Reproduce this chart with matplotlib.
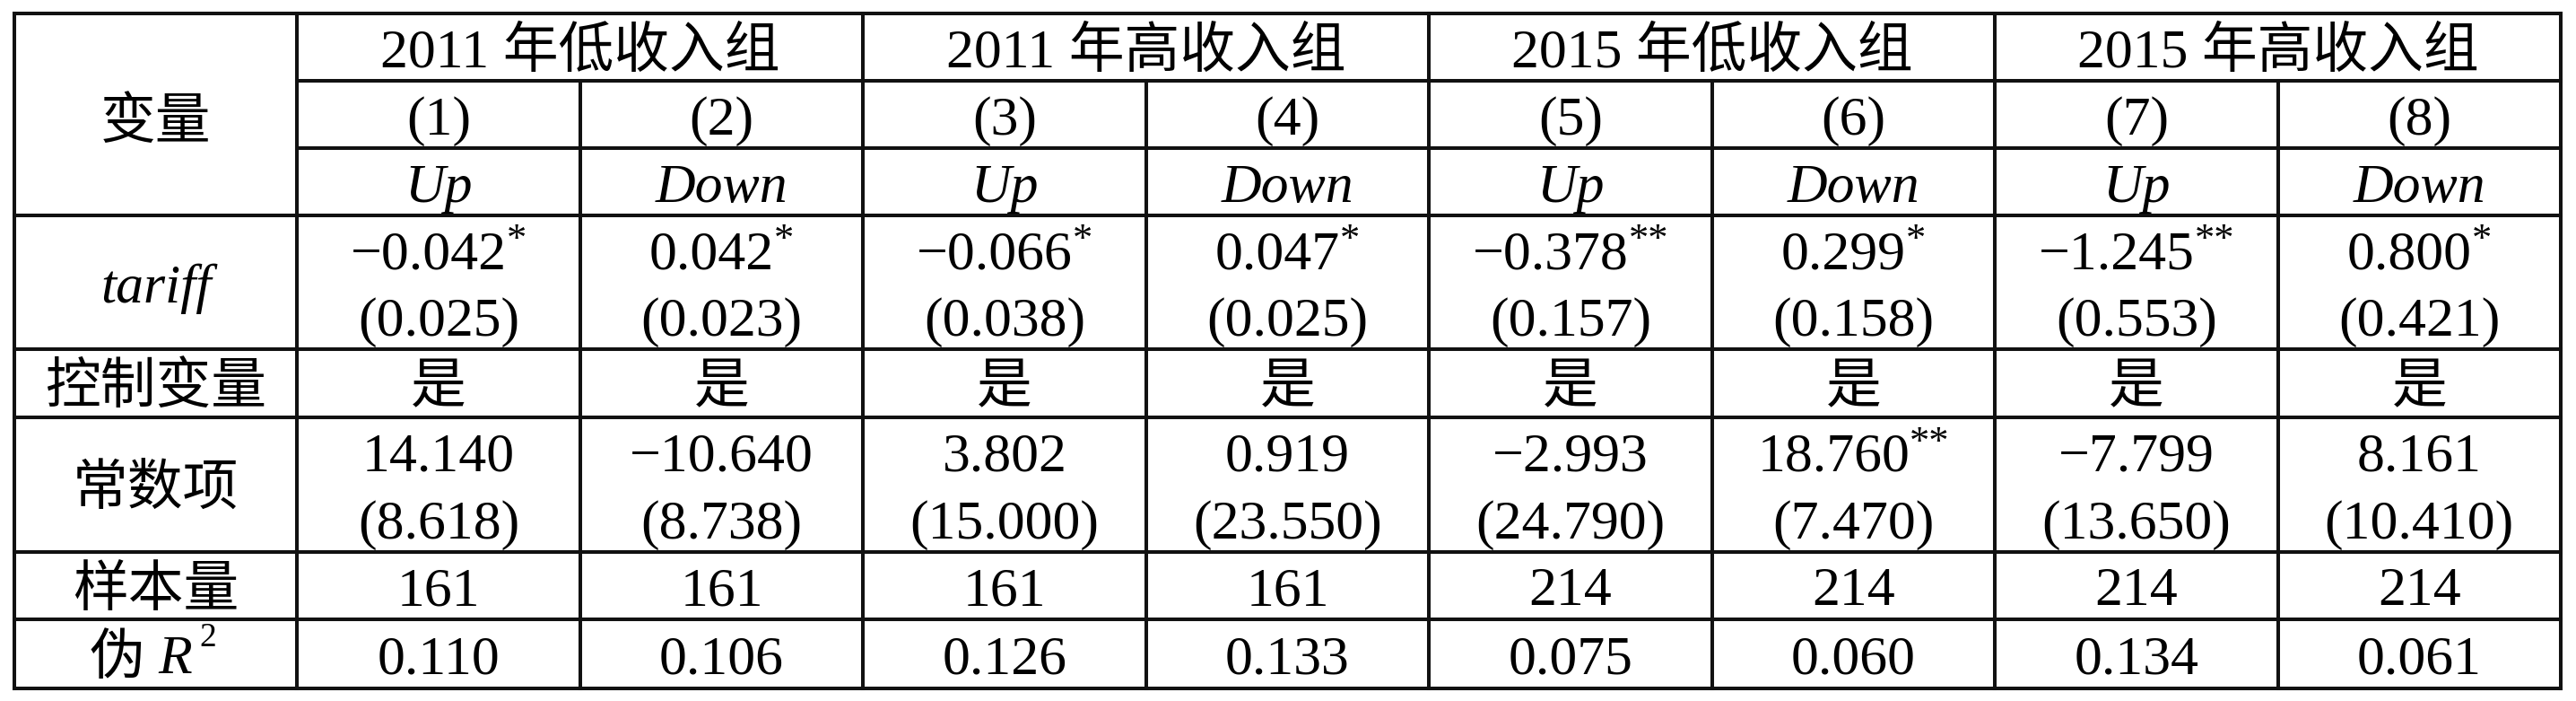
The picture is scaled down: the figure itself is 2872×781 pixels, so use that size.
import numpy as np
import matplotlib
matplotlib.use('Agg')
import matplotlib.pyplot as plt

# Latin text in a serif, Chinese falls through to the CJK family
plt.rcParams['font.family'] = ['Liberation Serif', 'Noto Sans CJK SC']

# table contents
groups = ['2011 年低收入组', '2011 年高收入组', '2015 年低收入组', '2015 年高收入组']
model_nums = ['(1)', '(2)', '(3)', '(4)', '(5)', '(6)', '(7)', '(8)']
dep_vars = ['Up', 'Down', 'Up', 'Down', 'Up', 'Down', 'Up', 'Down']
tariff_coef = [-0.042, 0.042, -0.066, 0.047, -0.378, 0.299, -1.245, 0.800]
tariff_stars = ['*', '*', '*', '*', '**', '*', '**', '*']
tariff_se = [0.025, 0.023, 0.038, 0.025, 0.157, 0.158, 0.553, 0.421]
controls = ['是', '是', '是', '是', '是', '是', '是', '是']
const_coef = [14.140, -10.640, 3.802, 0.919, -2.993, 18.760, -7.799, 8.161]
const_stars = ['', '', '', '', '', '**', '', '']
const_se = [8.618, 8.738, 15.000, 23.550, 24.790, 7.470, 13.650, 10.410]
n_obs = [161, 161, 161, 161, 214, 214, 214, 214]
pseudo_r2 = [0.110, 0.106, 0.126, 0.133, 0.075, 0.060, 0.134, 0.061]

W, H = 2872, 781
fig = plt.figure(figsize=(W / 100, H / 100), dpi=100)
ax = fig.add_axes([0, 0, 1, 1])
ax.set_xlim(0, W)
ax.set_ylim(H, 0)
ax.axis('off')
renderer = fig.canvas.get_renderer()

FS = 44.5
STAR_FS = 32
LW = 2.9

left, right = 16, 2855
col_w = (right - left) / 9
xs = left + col_w * np.arange(10)
cx = (xs[:-1] + xs[1:]) / 2
row_y = [15, 90, 165, 240, 389, 465, 615, 690, 767]


def fmt(v):
    return f'{v:.3f}'.replace('-', '\u2212')


def cell(x, yc, s, stars='', italic=False):
    # yc is the middle of the (sub)row, text sits on a baseline just below it
    base = yc + 22
    style = 'italic' if italic else 'normal'
    if not stars:
        ax.text(x, base, s, ha='center', va='baseline', fontsize=FS, style=style)
        return
    t = ax.text(0, base, s, ha='left', va='baseline', fontsize=FS, style=style)
    st = ax.text(0, base - 20, stars, ha='left', va='baseline', fontsize=STAR_FS)
    w1 = t.get_window_extent(renderer).width
    w2 = st.get_window_extent(renderer).width
    gap = 0
    x0 = x - (w1 + gap + w2) / 2
    t.set_x(x0)
    st.set_x(x0 + w1 + gap)


# grid lines
kw = dict(color='#111111', lw=LW, solid_capstyle='projecting')
for y in [row_y[0]] + row_y[3:]:
    ax.plot([left, right], [y, y], **kw)
for y in row_y[1:3]:
    ax.plot([xs[1], right], [y, y], **kw)
for i in [0, 1, 3, 5, 7, 9]:
    ax.plot([xs[i], xs[i]], [row_y[0], row_y[-1]], **kw)
for i in [2, 4, 6, 8]:
    ax.plot([xs[i], xs[i]], [row_y[1], row_y[-1]], **kw)

# header
cell(cx[0], (row_y[0] + row_y[3]) / 2 + 4, '变量')
for g, name in enumerate(groups):
    cell((xs[1 + 2 * g] + xs[3 + 2 * g]) / 2, (row_y[0] + row_y[1]) / 2, name)
for j in range(8):
    cell(cx[j + 1], (row_y[1] + row_y[2]) / 2, model_nums[j])
    cell(cx[j + 1], (row_y[2] + row_y[3]) / 2, dep_vars[j], italic=True)

# tariff block
r0, r1 = row_y[3], row_y[4]
cell(cx[0], (r0 + r1) / 2, 'tariff', italic=True)
for j in range(8):
    cell(cx[j + 1], r0 + (r1 - r0) * 0.25, fmt(tariff_coef[j]), tariff_stars[j])
    cell(cx[j + 1], r0 + (r1 - r0) * 0.75, '(' + fmt(tariff_se[j]) + ')')

# controls
cell(cx[0], (row_y[4] + row_y[5]) / 2, '控制变量')
for j in range(8):
    cell(cx[j + 1], (row_y[4] + row_y[5]) / 2, controls[j])

# constant
r0, r1 = row_y[5], row_y[6]
cell(cx[0], (r0 + r1) / 2, '常数项')
for j in range(8):
    cell(cx[j + 1], r0 + (r1 - r0) * 0.25, fmt(const_coef[j]), const_stars[j])
    cell(cx[j + 1], r0 + (r1 - r0) * 0.75, '(' + fmt(const_se[j]) + ')')

# observations
cell(cx[0], (row_y[6] + row_y[7]) / 2, '样本量')
for j in range(8):
    cell(cx[j + 1], (row_y[6] + row_y[7]) / 2, str(n_obs[j]))

# pseudo R2
yc = (row_y[7] + row_y[8]) / 2
ax.text(cx[0] - 12, yc + 22, '伪', ha='right', va='baseline', fontsize=FS)
tr = ax.text(cx[0] + 3, yc + 22, 'R', ha='left', va='baseline', fontsize=FS, style='italic')
wr = tr.get_window_extent(renderer).width
ax.text(cx[0] + 3 + wr + 8, yc + 22 - 30, '2', ha='left', va='baseline', fontsize=27)
for j in range(8):
    cell(cx[j + 1], yc, fmt(pseudo_r2[j]))

fig.savefig('out.png', dpi=100, facecolor='white')
